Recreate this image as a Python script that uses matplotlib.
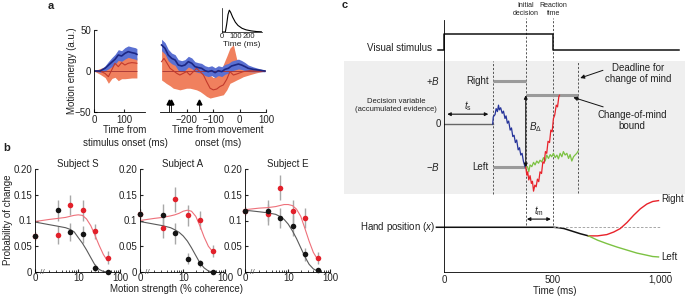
import matplotlib
matplotlib.use("Agg")
import matplotlib.pyplot as plt
import numpy as np
from matplotlib.patches import Rectangle

plt.rcParams['font.family'] = ['Liberation Sans', 'DejaVu Sans']
plt.rcParams['font.size'] = 7
plt.rcParams['axes.linewidth'] = 0.6
plt.rcParams['text.color'] = '#222222'
plt.rcParams['xtick.color'] = '#222222'
plt.rcParams['ytick.color'] = '#222222'
plt.rcParams['mathtext.fontset'] = 'custom'
plt.rcParams['mathtext.it'] = 'Liberation Sans:italic'
plt.rcParams['mathtext.rm'] = 'Liberation Sans'

# ---------------- panel a data ----------------
stim_t = [0, 20, 37, 48, 60, 70, 81, 92, 103, 114, 126, 137, 143]
stim_blue = [0, 0, 3.3, 7, 11, 14.2, 19.5, 18.3, 21.5, 23.6, 22.4, 21.5, 20.3]
stim_blue_err = [0, 1.5, 3, 4.5, 5.5, 6, 6.5, 6.5, 7, 7, 7, 7, 7]
stim_red = [0, 0, -3, -6.9, 2, 9.4, 5.3, 10.2, 7.3, 9.4, 10.2, 9.8, 9.4]
stim_red_hi = [0, 3, 5.3, 6.1, 11.4, 16.7, 17.9, 18, 18.3, 18, 17, 16.5, 16]
stim_red_lo = [0, -4, -8, -15, -9, -7.7, -11.8, -9.4, -9.4, -9, -8.5, -8.5, -8.5]

move_t = [-294, -281, -269, -256, -243, -231, -218, -206, -193, -180, -168, -155,
          -143, -130, -118, -105, -92, -80, -67, -55, -42, -30, -17, -4, 8, 21,
          33, 52, 71, 96]
move_blue = [31.7, 27.6, 19.5, 15.4, 13.4, 7.3, 6.1, 7.3, 11.4, 9.4, 5.3, 4.1,
             3.3, 0.4, -0.8, 0.4, -2, 0.4, -0.8, 2, 3.3, 6.1, 7.3, 8.5, 7.3, 5.3,
             3.3, 2, 1.2, 0]
move_blue_err = [7, 7, 7, 6.5, 6.5, 6.5, 6.5, 6.5, 6.5, 6.5, 6, 6, 6, 6, 6, 6,
                 6, 6, 6, 6, 6, 6, 6, 6, 5.5, 5, 4, 3, 2, 1]
move_t_red = [-294, -285, -277, -262, -250, -237, -225, -212, -200, -187, -174,
              -162, -149, -136, -124, -111, -99, -86, -74, -61, -48, -36, -23,
              -11, 2, 14, 39, 64, 96]
move_red = [11.4, 15.4, 11.4, 3.3, 0.4, -2.8, -4.9, -2.8, -0.8, -4.9, -0.8, 3.3,
            -0.8, -4.9, -13, -21, -23, -22, -19, -17, -10, -0.8, -4.9, -3.7,
            -2.2, -0.8, 0.4, 0, 0]
move_red_hi = [28, 25, 22, 15, 12, 10, 10, 9.4, 9.5, 9.4, 9.4, 8, 5, 3.3,
               -3, -5, -8, -6, -3, 8, 18, 28, 32, 15, 8, 5, 4, 2, 0]
move_red_lo = [-11, -13, -15, -18, -21, -22, -23, -22, -21, -21, -22, -23, -25,
               -28, -31, -33, -32, -31, -30, -29, -23, -15, -13, -11, -9, -7,
               -4.5, -2.2, 0]
move_marks = [-266, -257, -153]

kernel_t = [0, 25, 35, 45, 55, 65, 80, 100, 120, 150, 180, 220, 260, 295]
kernel = [0, 0, 0.35, 0.8, 1.0, 0.9, 0.68, 0.45, 0.3, 0.17, 0.1, 0.05, 0.02, 0.01]

# ---------------- panel b data ----------------
coh = [0, 3.2, 6.4, 12.8, 25.6, 51.2]
subjects = ['Subject S', 'Subject A', 'Subject E']
p_black = [[0.070, 0.120, 0.078, 0.073, 0.008, 0.000],
           [0.112, 0.110, 0.075, 0.026, 0.017, 0.000],
           [0.118, 0.119, 0.105, 0.090, 0.034, 0.003]]
p_red = [[0.070, 0.072, 0.130, 0.120, 0.079, 0.028],
         [0.113, 0.086, 0.141, 0.110, 0.101, 0.041],
         [0.119, 0.112, 0.164, 0.118, 0.105, 0.027]]
e_black = [[0.008, 0.020, 0.017, 0.017, 0.008, 0.004],
           [0.010, 0.022, 0.020, 0.010, 0.007, 0.003],
           [0.008, 0.020, 0.020, 0.020, 0.012, 0.004]]
e_red = [[0.008, 0.018, 0.020, 0.020, 0.015, 0.012],
         [0.010, 0.020, 0.024, 0.020, 0.018, 0.012],
         [0.008, 0.020, 0.025, 0.022, 0.020, 0.012]]
fit_coh = [0, 2, 3.2, 5, 6.3, 8, 10, 12.6, 15.8, 20, 25, 31.6, 40, 50]
fit_black = [[0.097, 0.092, 0.089, 0.086, 0.083, 0.078, 0.067, 0.056, 0.043, 0.028, 0.014, 0.005, 0.001, 0.0],
             [0.098, 0.093, 0.090, 0.086, 0.082, 0.077, 0.070, 0.060, 0.047, 0.032, 0.018, 0.008, 0.002, 0.0],
             [0.120, 0.117, 0.115, 0.112, 0.108, 0.102, 0.093, 0.080, 0.065, 0.047, 0.030, 0.015, 0.006, 0.002]]
fit_red = [[0.098, 0.102, 0.104, 0.106, 0.108, 0.110, 0.111, 0.110, 0.103, 0.090, 0.072, 0.052, 0.034, 0.022],
           [0.100, 0.104, 0.106, 0.109, 0.111, 0.114, 0.118, 0.120, 0.118, 0.108, 0.090, 0.068, 0.050, 0.040],
           [0.121, 0.124, 0.125, 0.127, 0.129, 0.131, 0.131, 0.129, 0.122, 0.108, 0.085, 0.060, 0.038, 0.025]]

# ---------------- panel c data (time in ms, decision variable in units of B) ----------------
t_s, t_decide, t_rt, t_deadline = 225, 378, 505, 620
B, cm_bound = 1.0, 0.67
stim_low, stim_high, stim_end = 1.72, 2.09, 1085
hand_level = -2.40
dv_blue_t = [225, 228, 236, 241, 247, 252, 256, 262, 269, 275, 282, 287, 293, 299,
             306, 312, 318, 324, 330, 336, 343, 349, 355, 361, 367, 375]
dv_blue = [0, 0.17, 0.22, 0.36, 0.29, 0.44, 0.33, 0.38, 0.25, 0.30, 0.13, 0.19,
           0.02, 0.07, -0.14, -0.09, -0.29, -0.26, -0.43, -0.37, -0.60, -0.55,
           -0.72, -0.68, -0.86, -1.0]
dv_red_t = [378, 383, 387, 392, 398, 404, 409, 414, 420, 426, 432, 438, 444, 451,
            457, 463, 469, 475, 481, 488, 494, 500, 506, 512, 519, 525, 531, 534]
dv_red = [-1.0, -1.19, -1.11, -1.30, -1.20, -1.38, -1.33, -1.56, -1.42, -1.46,
          -1.28, -1.34, -1.11, -1.15, -0.88, -0.91, -0.64, -0.68, -0.40, -0.43,
          -0.14, -0.18, 0.13, 0.21, 0.44, 0.40, 0.64, 0.67]
dv_green_t = [378, 386, 392, 398, 406, 414, 421, 429, 437, 444, 452, 460, 468, 475,
              483, 491, 498, 506, 514, 522, 529, 537, 545, 552, 560, 568, 576, 583,
              591, 599, 606, 614, 620]
dv_green = [-1.0, -0.99, -1.11, -0.95, -0.99, -0.89, -0.95, -0.86, -0.91, -0.84,
            -0.88, -0.78, -0.86, -0.72, -0.80, -0.71, -0.76, -0.68, -0.78, -0.72,
            -0.81, -0.68, -0.76, -0.64, -0.72, -0.68, -0.80, -0.71, -0.86, -0.76,
            -0.72, -0.68, -0.63]
hand_t = [-35, 505, 530, 555, 580, 605, 630, 668]
hand = [-2.40, -2.40, -2.41, -2.43, -2.47, -2.51, -2.55, -2.60]
hand_right_t = [668, 710, 753, 785, 815, 846, 877, 908, 938, 965, 992]
hand_right = [-2.60, -2.60, -2.57, -2.51, -2.43, -2.29, -2.12, -1.97, -1.86, -1.80, -1.78]
hand_left_t = [668, 710, 753, 800, 846, 892, 938, 965, 992]
hand_left = [-2.60, -2.70, -2.78, -2.86, -2.93, -3.00, -3.05, -3.08, -3.09]
c_ticks = [0, 500, 1000]
c_ticklabels = ['0', '500', '1,000']

# colours
BLUE_BAND, BLUE_LINE = '#5a70d2', '#1c2784'
RED_BAND, RED_LINE, ZERO = '#f0805e', '#c23a2c', '#a33232'
DOT_K, DOT_R, FIT_K, FIT_R, ERR = '#141414', '#e2202a', '#5a5a5a', '#ee707a', '#a8a8a8'

W, H = 685, 296
fig = plt.figure(figsize=(W / 100, H / 100), dpi=100)


def box(x0, y0, x1, y1):
    return [x0 / W, 1 - y1 / H, (x1 - x0) / W, (y1 - y0) / H]


def ftext(x, y, s, **kw):
    fig.text(x / W, 1 - y / H, s, **kw)


# ======================= panel a =======================
ftext(48, 6, 'a', fontweight='bold', fontsize=8, va='center')
ax1 = fig.add_axes(box(94, 30, 145, 112))
sb = np.array(stim_blue)
se = np.array(stim_blue_err)
ax1.fill_between(stim_t, stim_red_lo, stim_red_hi, color=RED_BAND, lw=0)
ax1.fill_between(stim_t, sb - se, sb + se, color=BLUE_BAND, lw=0)
ax1.hlines(0, stim_t[0], stim_t[-1], color=ZERO, lw=0.6)
ax1.plot(stim_t, stim_red, color=RED_LINE, lw=0.8)
ax1.plot(stim_t, stim_blue, color=BLUE_LINE, lw=1.2)
ax1.set_xlim(0, 170)
ax1.set_ylim(-50, 50)
ax1.set_xticks([0, 100])
ax1.set_yticks([-50, 0, 50])
ax1.set_yticklabels(['\u221250', '0', '50'])
for s in ['top', 'right']:
    ax1.spines[s].set_visible(False)
ax1.tick_params(direction='in', length=2, pad=2, labelsize=7)

ax2 = fig.add_axes(box(160, 30, 266, 112))
mb = np.array(move_blue)
me = np.array(move_blue_err)
ax2.fill_between(move_t_red, move_red_lo, move_red_hi, color=RED_BAND, lw=0)
ax2.fill_between(move_t, mb - me, mb + me, color=BLUE_BAND, lw=0)
ax2.hlines(0, move_t[0], move_t[-1], color=ZERO, lw=0.6)
ax2.plot(move_t_red, move_red, color=RED_LINE, lw=0.8)
ax2.plot(move_t, move_blue, color=BLUE_LINE, lw=1.2)
ax2.vlines(move_marks, -50, -38, color='k', lw=0.6)
ax2.plot(move_marks, [-38] * len(move_marks), '^', ms=3.5, color='k')
ax2.set_xlim(-300, 100)
ax2.set_ylim(-50, 50)
ax2.set_xticks([-200, -100, 0, 100])
ax2.set_xticklabels(['\u2212200', '\u2212100', '0', '100'])
ax2.set_yticks([])
for s in ['top', 'right', 'left']:
    ax2.spines[s].set_visible(False)
ax2.tick_params(direction='in', length=2, pad=2, labelsize=7)

axi = fig.add_axes(box(222, 8, 262, 32))
axi.plot(kernel_t, kernel, color='k', lw=0.8)
axi.set_xlim(0, 300)
axi.set_ylim(0, 1.1)
axi.set_xticks([0, 100, 200])
axi.set_yticks([])
for s in ['top', 'right']:
    axi.spines[s].set_visible(False)
for s in ['left', 'bottom']:
    axi.spines[s].set_linewidth(0.5)
axi.tick_params(direction='in', length=0, pad=0.5, labelsize=5.5)
ftext(242, 45, 'Time (ms)', ha='center', va='center', fontsize=6)

fig.text(72 / W, 1 - 71 / H, 'Motion energy (a.u.)', rotation=90, ha='center', va='center')
ftext(125, 130, 'Time from', ha='center', va='center')
ftext(125, 143, 'stimulus onset (ms)', ha='center', va='center')
ftext(218, 130, 'Time from movement', ha='center', va='center')
ftext(218, 143, 'onset (ms)', ha='center', va='center')

# ======================= panel b =======================
ftext(3, 148, 'b', fontweight='bold', fontsize=8, va='center')
for i, left in enumerate([35, 140, 245]):
    ax = fig.add_axes(box(left, 169, left + 85, 272))
    ax.set_xscale('symlog', linthresh=1, linscale=0.03)
    ax.plot(fit_coh, fit_red[i], color=FIT_R, lw=0.8, zorder=2)
    ax.plot(fit_coh, fit_black[i], color=FIT_K, lw=0.8, zorder=2)
    ax.errorbar(coh, p_black[i], yerr=e_black[i], fmt='none', ecolor=ERR, elinewidth=1, zorder=1)
    ax.errorbar(coh, p_red[i], yerr=e_red[i], fmt='none', ecolor=ERR, elinewidth=1, zorder=1)
    ax.plot(coh, p_red[i], 'o', color=DOT_R, ms=4, mew=0, zorder=3, clip_on=False)
    ax.plot(coh, p_black[i], 'o', color=DOT_K, ms=4, mew=0, zorder=4, clip_on=False)
    ax.set_xlim(0, 100)
    ax.set_ylim(0, 0.2)
    ax.set_xticks([0, 10, 100])
    ax.set_xticklabels(['0', '10', '100'])
    ax.set_xticks([2, 3, 4, 5, 6, 7, 8, 9, 20, 30, 40, 50, 60, 70, 80, 90], minor=True)
    ax.set_yticks([0, 0.05, 0.1, 0.15, 0.2])
    ax.set_yticklabels(['0', '0.05', '0.1', '0.15', '0.20'])
    for s in ['top', 'right']:
        ax.spines[s].set_visible(False)
    ax.tick_params(which='major', direction='in', length=2.5, pad=2, labelsize=7)
    ax.tick_params(axis='x', which='major', pad=1)
    ax.tick_params(which='minor', direction='in', length=1.5)
    ax.text(1.4, 0, '//', transform=ax.get_xaxis_transform(), ha='center', va='center',
            fontsize=6, color='#555555')
    ax.set_title(subjects[i], fontsize=7, pad=1)

fig.text(8 / W, 1 - 220 / H, 'Probability of change', rotation=90, ha='center', va='center')
ftext(177, 289, 'Motion strength (% coherence)', ha='center', va='center')

# ======================= panel c =======================
ftext(342, 5, 'c', fontweight='bold', fontsize=8, va='center')
axc = fig.add_axes(box(444, 20, 670, 272))
axc.set_xlim(0, 1045)
axc.set_ylim(-3.44, 2.42)
axc.add_patch(Rectangle((-463, -1.63), 1580, 3.10, facecolor='#efefef', edgecolor='none',
                        clip_on=False, zorder=0))
dash = dict(color='#555555', lw=0.7, ls=(0, (2.2, 1.8)), clip_on=False, zorder=1)
axc.vlines(t_s, -1.63, 1.47, **dash)
axc.vlines([t_decide, t_rt], -2.35, 2.47, **dash)
axc.vlines(t_deadline, -1.60, 1.44, **dash)

# stimulus
axc.plot([-30, 0, 0, t_rt, t_rt, stim_end],
         [stim_low, stim_low, stim_high, stim_high, stim_low, stim_low],
         color='#111111', lw=1.1, clip_on=False)
# decision variable
axc.plot([0, t_s], [0, 0], color='#666666', lw=1.0)
bar = dict(color='#9a9a9a', lw=2.2, solid_capstyle='butt')
axc.plot([t_s, t_decide], [B, B], **bar)
axc.plot([t_s, t_decide], [-B, -B], **bar)
axc.plot([t_decide, t_deadline], [cm_bound, cm_bound], **bar)
axc.plot(dv_green_t, dv_green, color='#7cc242', lw=0.9, zorder=3)
axc.plot(dv_blue_t, dv_blue, color='#26349a', lw=0.9, zorder=3)
axc.plot(dv_red_t, dv_red, color='#e8222a', lw=0.9, zorder=3)
arr = dict(arrowstyle='<|-|>', color='#111111', lw=0.8, mutation_scale=5, shrinkA=0, shrinkB=0)
axc.annotate('', xy=(15, 0.23), xytext=(205, 0.23), arrowprops=arr)
axc.annotate('', xy=(t_decide, -B), xytext=(t_decide, cm_bound), arrowprops=arr)
axc.annotate('', xy=(383, -2.21), xytext=(494, -2.21), arrowprops=arr)
axc.text(112, 0.42, r'$t_{\rm s}$', ha='center', va='center', fontsize=7)
axc.text(421, -0.06, r'$B_{\Delta}$', ha='center', va='center', fontsize=7)
axc.text(441, -2.02, r'$t_{\rm m}$', ha='center', va='center', fontsize=7)

# hand position
axc.plot(hand_t, hand, color='#111111', lw=1.1, clip_on=False)
axc.plot([t_rt, 1000], [hand_level, hand_level], color='#999999', lw=0.6, ls=(0, (3, 2)))
axc.plot(hand_right_t, hand_right, color='#e8222a', lw=1.0)
axc.plot(hand_left_t, hand_left, color='#7cc242', lw=1.0)

# labels
lab = dict(ha='right', va='center', fontsize=7, clip_on=False)
axc.text(-56, 1.77, 'Visual stimulus', **lab)
axc.text(-40, hand_level, 'Hand position ($x$)', **lab)
axc.text(-19, B, r'$+B$', **lab)
axc.text(-12, 0, '0', **lab)
axc.text(-19, -B, r'$-B$', **lab)
axc.text(-32, 0.44, 'Decision variable\n(accumulated evidence)', ha='right', va='center',
         fontsize=5.5, linespacing=1.2, multialignment='center')
axc.text(208, B, 'Right', **lab)
axc.text(208, -B, 'Left', **lab)
axc.text(t_decide, 2.5, 'Initial\ndecision', ha='center', va='bottom', fontsize=5, linespacing=1.1)
axc.text(t_rt, 2.5, 'Reaction\ntime', ha='center', va='bottom', fontsize=5, linespacing=1.1)
axc.text(1005, -1.74, 'Right', ha='left', va='center', fontsize=7)
axc.text(1005, -3.09, 'Left', ha='left', va='center', fontsize=7)
axc.text(898, 1.18, 'Deadline for\nchange of mind', ha='center', va='center', fontsize=7,
         linespacing=1.15)
axc.text(870, 0.09, 'Change-of-mind\nbound', ha='center', va='center', fontsize=7,
         linespacing=1.15)
pt = dict(arrowstyle='-|>', color='#111111', lw=0.7, mutation_scale=6, shrinkA=0, shrinkB=0)
axc.annotate('', xy=(630, 1.07), xytext=(735, 1.25), arrowprops=pt)
axc.annotate('', xy=(598, 0.62), xytext=(736, 0.40), arrowprops=pt)

axc.set_xticks(c_ticks)
axc.set_xticklabels(c_ticklabels)
axc.set_yticks([])
for s in ['top', 'right']:
    axc.spines[s].set_visible(False)
axc.tick_params(length=0, pad=2, labelsize=7)
ftext(555, 290.5, 'Time (ms)', ha='center', va='center')

fig.savefig('out.png', dpi=100)
